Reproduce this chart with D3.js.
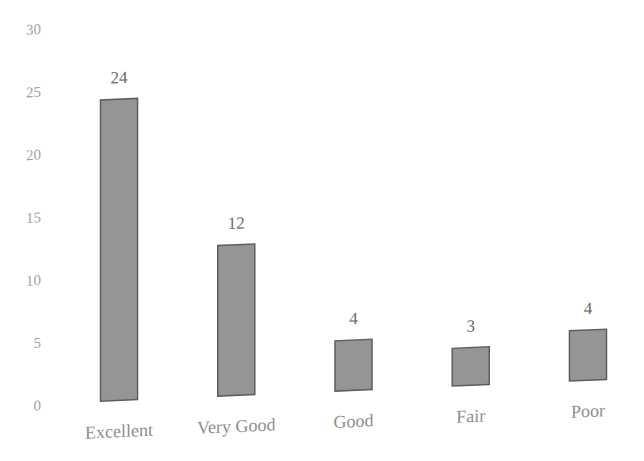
<!DOCTYPE html>
<html><head><meta charset="utf-8">
<script src="https://cdn.jsdelivr.net/npm/d3@7"></script>
<style>html,body{margin:0;padding:0;background:#fff;}svg{display:block;}</style>
</head><body>
<script>
const categories = ["Excellent", "Very Good", "Good", "Fair", "Poor"];
const values = [24, 12, 4, 3, 4];
const yTicks = [0, 5, 10, 15, 20, 25, 30];

const W = 644, H = 461;
const svg = d3.select("body").append("svg").attr("width", W).attr("height", H);
svg.append("rect").attr("width", W).attr("height", H).attr("fill", "#fff");

// the scanned page is slightly sheared: baseline rises to the right
const g = svg.append("g").attr("transform", "matrix(1,-0.043,0,1,0,0)");

const x = d3.scaleBand().domain(categories).range([60.4, 646.6])
  .paddingInner(0.684).paddingOuter(0.342);
const y = d3.scaleLinear().domain([0, 30]).range([405.5, 29]);

const font = "'Liberation Serif', 'DejaVu Serif', serif";

// y axis tick labels (no axis line)
const yAxis = d3.axisLeft(y).tickValues(yTicks).tickSize(0).tickPadding(0);
const ya = g.append("g").attr("transform", "translate(41,1.5)").call(yAxis);
ya.select(".domain").remove();
ya.selectAll("text").attr("font-family", font).attr("font-size", 15).attr("fill", "#a2a2a2");

// bars
g.selectAll("rect.bar").data(values).join("rect").attr("class", "bar")
  .attr("x", (d, i) => x(categories[i]))
  .attr("y", d => y(d))
  .attr("width", x.bandwidth())
  .attr("height", d => y(0) - y(d))
  .attr("fill", "#959595")
  .attr("stroke", "#5e5e5e")
  .attr("stroke-width", 1.5);

// value labels
g.selectAll("text.val").data(values).join("text").attr("class", "val")
  .attr("x", (d, i) => x(categories[i]) + x.bandwidth() / 2)
  .attr("y", d => y(d) - 16)
  .attr("text-anchor", "middle")
  .attr("font-family", font).attr("font-size", 17).attr("fill", "#6a6a6a")
  .text(d => d);

// category labels (no axis line)
const xAxis = d3.axisBottom(x).tickSize(0).tickPadding(0);
const xa = g.append("g").attr("transform", `translate(0,${y(0) + 24})`).call(xAxis);
xa.select(".domain").remove();
xa.selectAll("text").attr("font-family", font).attr("font-size", 18).attr("fill", "#8e8e8e");
</script>
</body></html>
